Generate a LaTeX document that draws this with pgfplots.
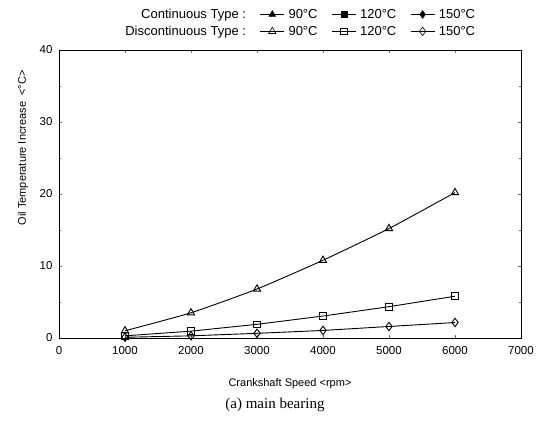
\documentclass[border=0pt]{standalone}
\usepackage{fontspec}
\setmainfont{Liberation Sans}
\newfontfamily\capfont{Liberation Serif}
\usepackage{pgfplots}
\pgfplotsset{compat=1.18}
\newlength{\hdrw}
\begin{document}
\settowidth{\hdrw}{\fontsize{13}{15}\selectfont Discontinuous Type :}%
\begin{tikzpicture}
\begin{axis}[
  name=ax,
  scale only axis,
  width=462pt, height=288pt,
  xmin=0, xmax=7000, ymin=0, ymax=40,
  xtick={0,1000,...,7000},
  ytick={0,10,20,30,40},
  minor y tick num=1,
  tick align=inside,
  major tick length=3pt,
  minor tick length=2pt,
  tick style={black!60, thin},
  axis line style={black, line width=0.7pt},
  /pgf/number format/assume math mode=true,
  /pgf/number format/1000 sep={},
  scaled x ticks=false,
  ticklabel style={font=\fontsize{11.5}{13}\selectfont},
  xticklabel style={yshift=-5pt},
  yticklabel style={xshift=-3pt},
  xlabel={Crankshaft Speed <rpm>},
  ylabel={Oil Temperature Increase\ \ <°C>},
  label style={font=\fontsize{11}{13}\selectfont},
  xlabel style={at={(axis description cs:0.5,0)}, anchor=center, yshift=-46pt},
  ylabel style={at={(axis description cs:-0.078,0.66)}, anchor=center},
  legend columns=4,
  legend cell align=left,
  legend style={draw=none, fill=none, font=\fontsize{13}{15}\selectfont,
    at={(axis description cs:0.52,1.094)}, anchor=center,
    /tikz/every odd column/.append style={column sep=2pt},
    /tikz/every even column/.append style={column sep=12pt},
    row sep=2pt},
  legend image code/.code={\draw[mark repeat=2,mark phase=2,#1] plot coordinates {(0cm,0cm) (0.42cm,0cm) (0.84cm,0cm)};},
  legend image post style={line width=0.6pt},
  every axis plot/.append style={black, line width=0.9pt, mark size=4.2pt,
    mark options={solid, line width=0.7pt}},
]
\addlegendimage{empty legend}
\addlegendentry{\makebox[\hdrw][r]{Continuous Type :}}
\addlegendimage{black, mark=triangle*, mark size=3.8pt, mark options={fill=black}}
\addlegendentry{90°C}
\addlegendimage{black, mark=square*, mark options={fill=black}, mark size=3pt}
\addlegendentry{120°C}
\addlegendimage{black, mark=diamond*, mark size=3.8pt, mark options={fill=black}}
\addlegendentry{150°C}
\addlegendimage{empty legend}
\addlegendentry{\makebox[\hdrw][r]{Discontinuous Type :}}

\addplot[mark=triangle, mark options={fill=white}, smooth, tension=0.3] coordinates {
 (1000,1.0) (2000,3.5) (3000,6.8) (4000,10.8) (5000,15.2) (6000,20.2)};
\addlegendentry{90°C}
\addplot[mark=square, mark options={fill=white}, mark size=3.3pt] coordinates {
 (1000,0.3) (2000,0.95) (3000,1.9) (4000,3.05) (5000,4.35) (6000,5.8)};
\addlegendentry{120°C}
\addplot[mark=diamond, mark options={fill=white}] coordinates {
 (1000,0.1) (2000,0.3) (3000,0.65) (4000,1.05) (5000,1.6) (6000,2.15)};
\addlegendentry{150°C}
\end{axis}
\node[font=\capfont\fontsize{15}{18}\selectfont] at ([xshift=-15pt,yshift=-67pt]ax.south) {(a) main bearing};
\pgfresetboundingbox
\path[use as bounding box] ([xshift=-59pt,yshift=-95pt]ax.south west) rectangle ([xshift=491pt,yshift=338pt]ax.south west);
\end{tikzpicture}
\end{document}
